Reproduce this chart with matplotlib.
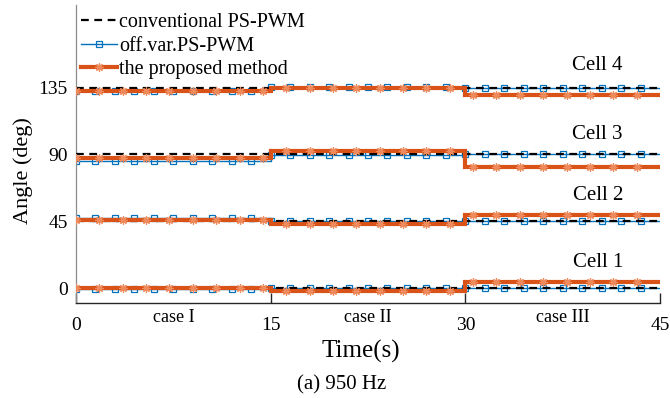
import matplotlib
matplotlib.use("Agg")
import matplotlib.pyplot as plt
import numpy as np
from matplotlib.lines import Line2D
from matplotlib.transforms import blended_transform_factory

plt.rcParams["font.family"] = ["Liberation Serif", "DejaVu Serif"]

# case boundaries (s) and case names
case_edges = [0, 15, 30, 45]
case_names = ["case I", "case II", "case III"]
cell_names = ["Cell 1", "Cell 2", "Cell 3", "Cell 4"]

# phase angle per cell (deg), one value per case I / II / III
conventional = [
    [0, 0, 0],
    [45, 45, 45],
    [90, 90, 90],
    [135, 135, 135],
]
off_var = [
    [-0.5, 0.4, 0.0],
    [47.3, 45.4, 45.0],
    [85.5, 89.6, 90.0],
    [133.0, 135.6, 135.0],
]
proposed = [
    [0.4, -1.6, 4.3],
    [46.2, 43.1, 49.5],
    [87.6, 92.0, 81.4],
    [133.0, 134.9, 129.8],
]

BLUE = "#0072BD"
ORANGE = "#D95319"
ORANGE_MARK = "#EE8A5C"


def step_xy(levels):
    x = np.repeat(case_edges, 2)[1:-1]
    y = np.repeat(levels, 2)
    return x, y


def levels_at(levels, t):
    idx = np.clip(np.searchsorted(case_edges, t, side="right") - 1, 0, len(levels) - 1)
    return np.asarray(levels)[idx]


fig = plt.figure(figsize=(6.7, 3.98), dpi=100)
ax = fig.add_axes([76 / 670, 95 / 398, 584 / 670, 298 / 398])

t_blue = np.arange(0, 45, 1.5)
t_orange = np.arange(0, 45, 1.8)

for k in range(4):
    x, y = step_xy(off_var[k])
    ax.plot(x, y, color=BLUE, lw=1.0, zorder=2)
    ax.plot(t_blue, levels_at(off_var[k], t_blue), ls="none", marker="s", ms=4.2,
            mfc="none", mec=BLUE, mew=0.9, zorder=2)

    x, y = step_xy(conventional[k])
    ax.plot(x, y, color="black", lw=1.6, ls=(0, (3.5, 2.5)), zorder=3)

    x, y = step_xy(proposed[k])
    ax.plot(x, y, color=ORANGE, lw=3.0, zorder=4, solid_joinstyle="miter")
    ax.plot(t_orange, levels_at(proposed[k], t_orange), ls="none", marker=(8, 2, 0),
            ms=6, mec=ORANGE_MARK, mew=0.9, zorder=4)

# cell labels above each group
for name, y in zip(cell_names, [17.5, 62.5, 103.5, 149.5]):
    ax.text(40.2, y, name, ha="center", va="center", fontsize=15)

ax.set_xlim(0, 45)
ax.set_ylim(-9.9, 190.5)
ax.set_xticks(case_edges)
ax.set_yticks([0, 45, 90, 135])
ax.tick_params(axis="x", direction="in", length=7, width=1, color="#262626",
               pad=10, labelsize=14)
ax.tick_params(axis="y", direction="in", length=0, pad=6, labelsize=14)

for side in ["top", "right"]:
    ax.spines[side].set_visible(False)
ax.spines["left"].set_color("#8c8c8c")
ax.spines["left"].set_linewidth(0.9)
ax.spines["bottom"].set_color("#262626")
ax.spines["bottom"].set_linewidth(1.0)

trans = blended_transform_factory(ax.transData, ax.transAxes)
for i, name in enumerate(case_names):
    mid = (case_edges[i] + case_edges[i + 1]) / 2
    ax.text(mid, -0.047, name, transform=trans, ha="center", va="center", fontsize=13)

ax.set_xlabel("Time(s)", fontsize=18)
ax.xaxis.set_label_coords(0.488, -0.125)
ax.set_ylabel("Angle (deg)", fontsize=16)
ax.yaxis.set_label_coords(-0.074, 0.446)

fig.text(342 / 670, 1 - 385 / 398, "(a) 950 Hz", ha="center", va="center", fontsize=15)

handles = [
    Line2D([], [], color="black", lw=1.6, ls=(0, (3.5, 2.5))),
    Line2D([], [], color=BLUE, lw=1.0, marker="s", ms=4.2, mfc="none", mec=BLUE, mew=0.9),
    Line2D([], [], color=ORANGE, lw=3.0, marker=(8, 2, 0), ms=6, mec=ORANGE_MARK, mew=0.9),
]
labels = ["conventional PS-PWM", "off.var.PS-PWM", "the proposed method"]
ax.legend(handles, labels, loc="upper left", bbox_to_anchor=(-0.006, 1.0), frameon=False,
          fontsize=14.5, handlelength=1.8, handletextpad=0.1, labelspacing=0.22,
          borderaxespad=0.2, borderpad=0.2, numpoints=1)

fig.savefig("out.png", dpi=100)
